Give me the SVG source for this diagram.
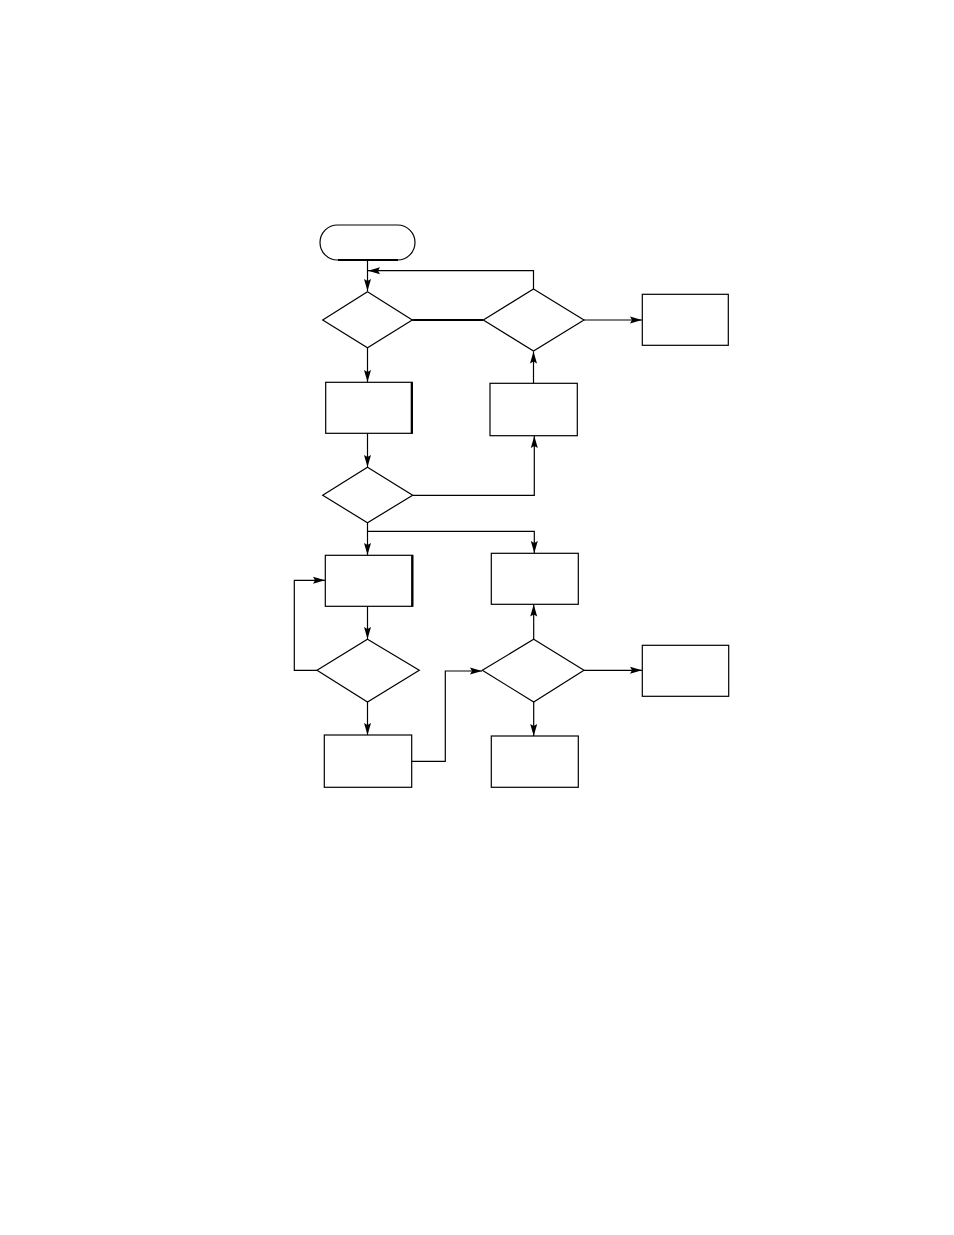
<svg xmlns="http://www.w3.org/2000/svg" width="954" height="1235" viewBox="0 0 954 1235">
<style>
.n{fill:#fff;stroke:#000;stroke-width:1.2}
.c{fill:none;stroke:#000;stroke-width:1.2}
.a{marker-end:url(#ah)}
.t{stroke:#000;stroke-width:2.2;fill:none}
</style>
<defs>
<marker id="ah" markerWidth="13" markerHeight="8" refX="12" refY="4" orient="auto" markerUnits="userSpaceOnUse">
<path d="M0,0.5 L12,4 L0,7.5 L2,4 z" fill="#000"/>
</marker>
</defs>
<rect width="954" height="1235" fill="#fff"/>
<g id="connectors">
<path class="c a" d="M367.5,260 V291"/>
<path class="c a" d="M533.5,289 V270.7 H368"/>
<path class="t" d="M412.3,320 H483.3"/>
<path class="c a" d="M584,320 H642"/>
<path class="c a" d="M367.5,347.7 V382"/>
<path class="c a" d="M533.5,383.3 V351.5"/>
<path class="c a" d="M367.5,433.3 V467"/>
<path class="c a" d="M412.7,495.3 H534.3 V436"/>
<path class="c a" d="M367.5,522.7 V555"/>
<path class="c a" d="M367.5,531.3 H534.3 V553"/>
<path class="c a" d="M367.5,606.3 V639"/>
<path class="c a" d="M317,670.3 H294.3 V580.3 H325"/>
<path class="c a" d="M367.5,702 V735"/>
<path class="c a" d="M410,761.3 H445.3 V671 H482"/>
<path class="c a" d="M533.7,639.3 V604.6"/>
<path class="c a" d="M584,670.3 H642"/>
<path class="c a" d="M533.7,702 V736"/>
</g>
<g id="start">
<rect class="n" x="320" y="225" width="95" height="35" rx="17.5" ry="17.5"/>
<path class="t" d="M338,260 H398"/>
</g>
<g id="d1"><polygon class="n" points="367.5,291.7 412.3,320 367.5,347.7 322.7,320"/></g>
<g id="d2"><polygon class="n" points="533.5,289 584,320 533.5,351 483.3,320"/></g>
<g id="boxTR"><rect class="n" x="642.3" y="294.3" width="86" height="51"/></g>
<g id="boxL1"><rect class="n" x="325.7" y="382.3" width="86.6" height="51"/><path class="t" d="M411.8,382.3 V433.3"/></g>
<g id="boxR1"><rect class="n" x="490" y="383.3" width="87.3" height="52.4"/></g>
<g id="d3"><polygon class="n" points="367.5,467.3 412.7,495.3 367.5,522.7 322.7,495.3"/></g>
<g id="boxL2"><rect class="n" x="325.3" y="555.3" width="87.4" height="51"/><path class="t" d="M412.2,555.3 V606.3"/></g>
<g id="boxR2"><rect class="n" x="491.3" y="553.3" width="87" height="51"/></g>
<g id="d4"><polygon class="n" points="367.5,639.3 419.3,670.3 367.5,702 317,670.3"/></g>
<g id="d5"><polygon class="n" points="533.7,639.3 584,670.3 533.7,702 482.3,670.3"/></g>
<g id="boxR3"><rect class="n" x="642.3" y="645.3" width="86.4" height="51"/></g>
<g id="boxL3"><rect class="n" x="324.3" y="735" width="87.4" height="52.3"/></g>
<g id="boxR4"><rect class="n" x="491.3" y="736" width="87" height="51.3"/></g>
</svg>
